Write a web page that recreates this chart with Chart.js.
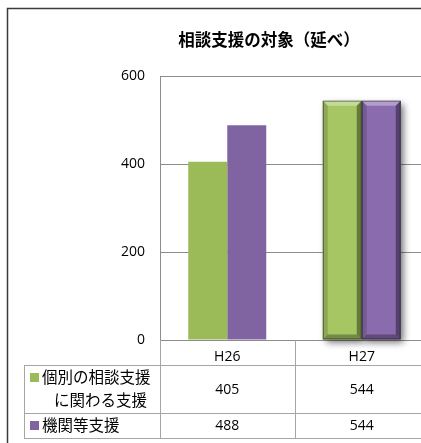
<!DOCTYPE html>
<html lang="ja">
<head>
<meta charset="utf-8">
<script src="https://cdn.jsdelivr.net/npm/chart.js@4.4.1/dist/chart.umd.min.js"></script>
<style>
  html, body { margin: 0; padding: 0; background: #fff; overflow: hidden; }
  #wrap { position: relative; width: 440px; height: 443px; }
</style>
</head>
<body>
<div id="wrap"><canvas id="chart" width="440" height="443"></canvas></div>
<script>
const categories = ['H26', 'H27'];
const kobetsu = [405, 544];
const kikan = [488, 544];
const rowLabels = [['個別の相談支援', 'に関わる支援'], ['機関等支援']];
const yMin = 0;
const yMax = 600;
const yStep = 200;
const chartTitle = '相談支援の対象（延べ）';

const FONT_JP = '"Noto Sans CJK JP", "Noto Sans", sans-serif';
const FONT_NUM = '"Open Sans", "Noto Sans", sans-serif';
const GREEN = '#9BBB59';
const PURPLE = '#8064A2';
const GRID = '#8C8C8C';
const TABLE_LINE = '#A6A6A6';

// H27 bars are drawn with the bevel / shadow effect like the original
const bevelIndex = 1;

const shadowPlugin = {
  id: 'shadowPlugin',
  beforeDatasetsDraw(chart) {
    const ctx = chart.ctx;
    ctx.save();
    chart.data.datasets.forEach((ds, di) => {
      const el = chart.getDatasetMeta(di).data[bevelIndex];
      if (!el) return;
      const l = el.x - el.width / 2, t = el.y, b = el.base;
      ctx.shadowColor = 'rgba(0,0,0,0.55)';
      ctx.shadowBlur = 7;
      ctx.shadowOffsetX = 3;
      ctx.shadowOffsetY = 3;
      ctx.fillStyle = '#fff';
      ctx.fillRect(l, t, el.width, b - t);
    });
    ctx.restore();
  },
  afterDatasetsDraw(chart) {
    const ctx = chart.ctx;
    const bv = 5;
    ctx.save();
    chart.data.datasets.forEach((ds, di) => {
      const el = chart.getDatasetMeta(di).data[bevelIndex];
      if (!el) return;
      const l = el.x - el.width / 2, r = el.x + el.width / 2, t = el.y, b = el.base;
      const face = (pts, color) => {
        ctx.beginPath();
        ctx.moveTo(pts[0][0], pts[0][1]);
        pts.slice(1).forEach((p) => ctx.lineTo(p[0], p[1]));
        ctx.closePath();
        ctx.fillStyle = color;
        ctx.fill();
      };
      face([[l, t], [r, t], [r - bv, t + bv], [l + bv, t + bv]], 'rgba(255,255,255,0.35)');
      face([[l, t], [l + bv, t + bv], [l + bv, b - bv], [l, b]], 'rgba(0,0,0,0.15)');
      face([[r, t], [r, b], [r - bv, b - bv], [r - bv, t + bv]], 'rgba(0,0,0,0.38)');
      face([[l, b], [r, b], [r - bv, b - bv], [l + bv, b - bv]], 'rgba(0,0,0,0.3)');
      ctx.strokeStyle = 'rgba(0,0,0,0.45)';
      ctx.lineWidth = 1;
      ctx.strokeRect(l + 0.5, t + 0.5, el.width - 1, b - t - 1);
    });
    ctx.restore();
  }
};

const tablePlugin = {
  id: 'tablePlugin',
  afterDraw(chart) {
    const ctx = chart.ctx;
    const x = chart.scales.x;
    const area = chart.chartArea;
    const step = x.getPixelForTick(1) - x.getPixelForTick(0);
    const tableLeft = 24;
    const rows = [365, 413, 438];

    ctx.save();
    // outer chart border
    ctx.strokeStyle = '#3a3a3a';
    ctx.lineWidth = 1.5;
    ctx.beginPath();
    ctx.moveTo(7.5, 443);
    ctx.lineTo(7.5, 8.5);
    ctx.lineTo(chart.width, 8.5);
    ctx.stroke();

    // title
    ctx.fillStyle = '#000';
    ctx.font = 'bold 16.5px ' + FONT_JP;
    ctx.textAlign = 'center';
    ctx.textBaseline = 'middle';
    ctx.fillText(chartTitle, 269, 40);

    // data table lines
    ctx.strokeStyle = TABLE_LINE;
    ctx.lineWidth = 1;
    ctx.beginPath();
    rows.forEach((y) => {
      ctx.moveTo(tableLeft, y + 0.5);
      ctx.lineTo(chart.width, y + 0.5);
    });
    ctx.moveTo(tableLeft + 0.5, rows[0]);
    ctx.lineTo(tableLeft + 0.5, rows[2]);
    ctx.moveTo(Math.round(area.left) + 0.5, area.bottom);
    ctx.lineTo(Math.round(area.left) + 0.5, rows[2]);
    categories.forEach((c, i) => {
      const bx = Math.round(x.getPixelForTick(i) + step / 2) + 0.5;
      ctx.moveTo(bx, area.bottom);
      ctx.lineTo(bx, rows[2]);
    });
    ctx.stroke();

    // row labels with legend keys
    const series = [kobetsu, kikan];
    const colors = [GREEN, PURPLE];
    ctx.textBaseline = 'middle';
    series.forEach((vals, si) => {
      const top = rows[si], bottom = rows[si + 1];
      const lines = rowLabels[si];
      const lh = 23;
      const y0 = (top + bottom) / 2 - (lines.length - 1) * lh / 2;
      ctx.fillStyle = colors[si];
      ctx.fillRect(30, y0 - 4.5, 9, 9);
      ctx.fillStyle = '#000';
      ctx.textAlign = 'left';
      ctx.font = '15.5px ' + FONT_JP;
      lines.forEach((txt, li) => {
        ctx.fillText(txt, li === 0 ? 42 : 54, y0 + li * lh);
      });
      ctx.font = '14px ' + FONT_NUM;
      ctx.textAlign = 'center';
      vals.forEach((v, i) => {
        ctx.fillText(String(v), x.getPixelForTick(i), (top + bottom) / 2 + 1);
      });
    });
    ctx.restore();
  }
};

const ctx = document.getElementById('chart');
new Chart(ctx, {
  type: 'bar',
  data: {
    labels: categories,
    datasets: [
      { label: rowLabels[0].join(''), data: kobetsu, backgroundColor: [GREEN, '#A5C663'] },
      { label: rowLabels[1].join(''), data: kikan, backgroundColor: [PURPLE, '#896BAE'] }
    ]
  },
  options: {
    responsive: false,
    animation: false,
    layout: { padding: { top: 76, left: 0, right: 11, bottom: 0 } },
    datasets: { bar: { categoryPercentage: 0.58, barPercentage: 1.0 } },
    scales: {
      x: {
        grid: { display: false },
        border: { display: true, color: GRID },
        ticks: { color: '#000', font: { family: FONT_NUM, size: 14 }, padding: 1 },
        afterFit: (s) => { s.height = 103; }
      },
      y: {
        min: yMin,
        max: yMax,
        ticks: { stepSize: yStep, color: '#000', font: { family: FONT_NUM, size: 14 }, padding: 15 },
        grid: { color: GRID, drawTicks: false },
        border: { display: true, color: GRID },
        afterFit: (s) => { s.width = 160; }
      }
    },
    plugins: {
      legend: { display: false },
      title: { display: false },
      tooltip: { enabled: false }
    }
  },
  plugins: [shadowPlugin, tablePlugin]
});
</script>
</body>
</html>
